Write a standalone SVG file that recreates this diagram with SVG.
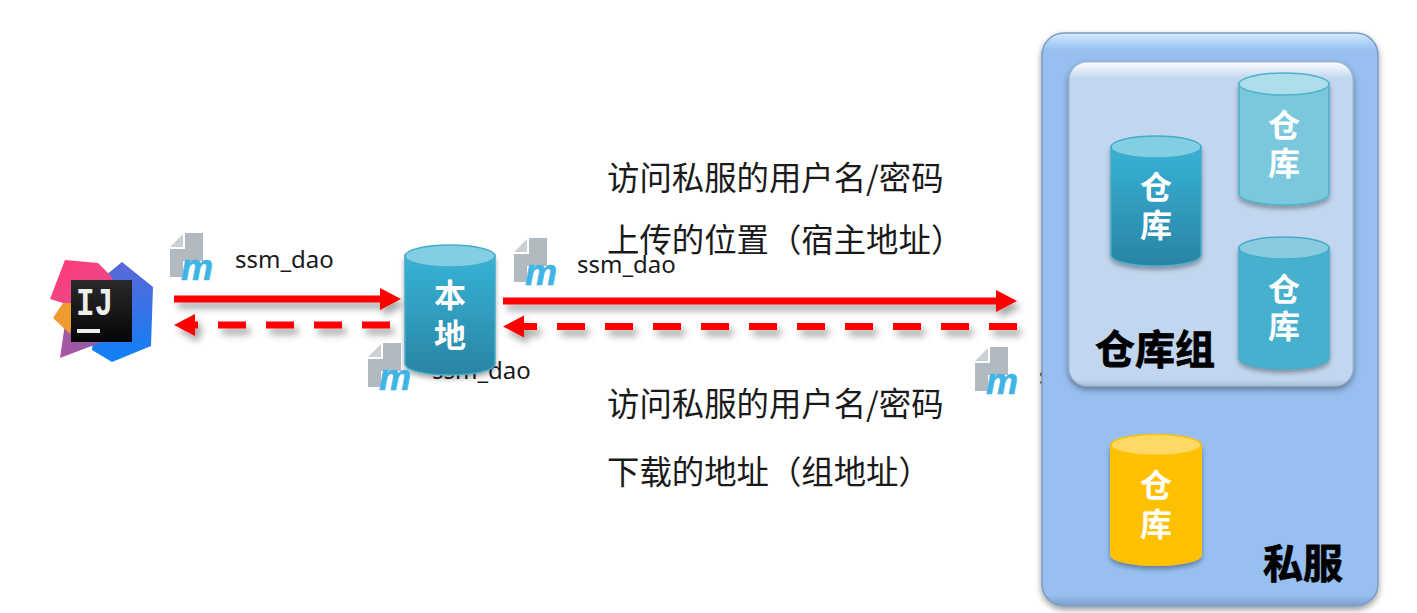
<svg xmlns="http://www.w3.org/2000/svg" xmlns:xlink="http://www.w3.org/1999/xlink" width="1417" height="613" viewBox="0 0 1417 613">
<style>
text{font-family:"Noto Sans","Noto Sans CJK SC",sans-serif}
.cap{font-family:"Noto Sans CJK SC",sans-serif;font-size:32.400px;fill:#1a1a1a}
.ssm{font-size:24px;fill:#1a1a1a}
.cyl{font-family:"Noto Sans CJK SC",sans-serif;font-size:32px;font-weight:700;fill:#fff;text-anchor:middle}
.big{font-family:"Noto Sans CJK SC",sans-serif;font-size:40px;font-weight:700;fill:#000;stroke:#000;stroke-width:.8px}
.solid{fill:none;stroke:#f00;stroke-width:7}
.dash{fill:none;stroke:#f00;stroke-width:7;stroke-dasharray:28 20}
</style>
<defs>
<filter id="sh" filterUnits="userSpaceOnUse" x="0" y="0" width="1417" height="613"><feDropShadow dx="4" dy="6" stdDeviation="3.500" flood-color="#000" flood-opacity=".35"/></filter>
<filter id="cs" x="-20%" y="-20%" width="140%" height="140%"><feDropShadow dx="0" dy="3" stdDeviation="2.500" flood-color="#000" flood-opacity=".35"/></filter>
<filter id="ps" x="-5%" y="-5%" width="110%" height="110%"><feDropShadow dx="0" dy="3" stdDeviation="3" flood-color="#000" flood-opacity=".4"/></filter>
<marker id="ah" markerUnits="userSpaceOnUse" markerWidth="22" markerHeight="24" refX="9" refY="12" orient="auto"><path d="M0 1L21 12L0 23Z" fill="#f00"/></marker>
<linearGradient id="g1" x1="0" y1="0" x2="0" y2="1"><stop offset="0" stop-color="#36b3d6"/><stop offset="1" stop-color="#2a84a4"/></linearGradient>
<linearGradient id="edge" x1="0" y1="0" x2="0" y2="1"><stop offset="0" stop-color="#d4ecfd"/><stop offset=".03" stop-color="#97bff0"/><stop offset=".98" stop-color="#97bff0"/><stop offset="1" stop-color="#7d9fcc"/></linearGradient>
<linearGradient id="edge2" x1="0" y1="0" x2="0" y2="1"><stop offset="0" stop-color="#fff"/><stop offset=".05" stop-color="#c2d7ef"/><stop offset=".98" stop-color="#c2d7ef"/><stop offset="1" stop-color="#a9bdd6"/></linearGradient>
<linearGradient id="pp" x1="0" y1="0" x2="1" y2="1"><stop offset="0" stop-color="#ff3a74"/><stop offset=".6" stop-color="#f04488"/><stop offset="1" stop-color="#c0509a"/></linearGradient>
<linearGradient id="bl" x1="0" y1="0" x2="0" y2="1"><stop offset="0" stop-color="#5a68d8"/><stop offset="1" stop-color="#0f80f8"/></linearGradient>
<linearGradient id="pu" x1="0" y1="0" x2="1" y2="0"><stop offset="0" stop-color="#a9559f"/><stop offset="1" stop-color="#8a5cb0"/></linearGradient>
<linearGradient id="bk" x1="0" y1="0" x2="0" y2="1"><stop offset="0" stop-color="#2a2a2a"/><stop offset="1" stop-color="#050505"/></linearGradient>
<g id="mvn">
<path d="M15 0H33V28H13V44H0V16H15Z" fill="#b0bac0"/>
<path d="M0 14L13 1V14Z" fill="#c9d1d5"/>
<text x="11" y="46.500" font-size="36" font-weight="700" font-style="italic" fill="#3fb5e5" style="font-family:'Liberation Sans',sans-serif" stroke="#3fb5e5" stroke-width=".6">m</text>
</g>
</defs>
<rect width="1417" height="613" fill="#fff"/>

<text class="ssm" x="1039" y="384">ssm_dao</text>
<text class="ssm" x="432" y="379">ssm_dao</text>

<g id="connectors">
<g filter="url(#sh)"><path class="solid" d="M174 299H389" marker-end="url(#ah)"/></g>
<g filter="url(#sh)"><path class="dash" d="M390 325H186" marker-end="url(#ah)"/></g>
<g filter="url(#sh)"><path class="solid" d="M503 301H1005" marker-end="url(#ah)"/></g>
<g filter="url(#sh)"><path class="dash" d="M1017 326.500H515" marker-end="url(#ah)"/></g>
</g>

<g id="idea">
<path d="M122 262L153 287L151 346L112 362L92 350L100 280Z" fill="url(#bl)"/>
<path d="M67 310L60 358L102 342L100 300Z" fill="url(#pu)"/>
<path d="M63 303L53 318L70 334L75 303Z" fill="#f09a30"/>
<path d="M65 260L98 263L113 278L100 300L71 303L63 303L50 299Z" fill="url(#pp)"/>
<rect x="71" y="280" width="61" height="62" fill="url(#bk)"/>
<text x="76" y="315" font-size="38" font-weight="700" fill="#eee" textLength="37" lengthAdjust="spacingAndGlyphs" style="font-family:'Liberation Mono',monospace">IJ</text>
<rect x="77" y="329" width="23" height="4" fill="#eee"/>
</g>

<g id="local-repo">
<g filter="url(#cs)"><path d="M405 256V364A45 11 0 0 0 495 364V256Z" fill="url(#g1)" stroke="#45aac8" stroke-width="1.500"/></g>
<ellipse cx="450" cy="256" rx="45" ry="11" fill="#82cfe4" stroke="#45aac8" stroke-width="1.500"/>
<text class="cyl" x="450" y="307">本</text>
<text class="cyl" x="450" y="347">地</text>
</g>

<use xlink:href="#mvn" href="#mvn" x="170" y="233"/>
<use xlink:href="#mvn" href="#mvn" x="514" y="238"/>
<use xlink:href="#mvn" href="#mvn" x="368" y="343"/>
<use xlink:href="#mvn" href="#mvn" x="975" y="347"/>

<text class="ssm" x="235" y="268">ssm_dao</text>
<text class="ssm" x="577" y="273">ssm_dao</text>

<text class="cap" x="607" y="190">访问私服的用户名/密码</text>
<text class="cap" x="607" y="252">上传的位置（宿主地址）</text>
<text class="cap" x="607" y="416">访问私服的用户名/密码</text>
<text class="cap" x="607" y="484">下载的地址（组地址）</text>

<g id="private-server">
<rect x="1042" y="33" width="336" height="573" rx="22" fill="url(#edge)" stroke="#7c9ac4" stroke-width="1.500" filter="url(#ps)"/>
<text class="big" x="1263" y="578">私服</text>
</g>
<g id="repo-group">
<rect x="1069" y="62" width="284" height="324" rx="18" fill="url(#edge2)" stroke="#9fb2cc" stroke-width="1" filter="url(#ps)"/>
<text class="big" x="1095" y="364">仓库组</text>
</g>
<g id="repo-1">
<g filter="url(#cs)"><path d="M1111 147V255A45 11 0 0 0 1201 255V147Z" fill="url(#g1)" stroke="#45aac8" stroke-width="1.500"/></g>
<ellipse cx="1156" cy="147" rx="45" ry="11" fill="#82cfe4" stroke="#45aac8" stroke-width="1.500"/>
<text class="cyl" x="1156" y="199">仓</text>
<text class="cyl" x="1156" y="237">库</text>
</g>
<g id="repo-2">
<g filter="url(#cs)"><path d="M1239 84V194A45 11 0 0 0 1329 194V84Z" fill="#7ac8de" stroke="#4fb0cc" stroke-width="1.500"/></g>
<ellipse cx="1284" cy="84" rx="45" ry="11" fill="#aedeea" stroke="#4fb0cc" stroke-width="1.500"/>
<text class="cyl" x="1284" y="137">仓</text>
<text class="cyl" x="1284" y="175">库</text>
</g>
<g id="repo-3">
<g filter="url(#cs)"><path d="M1239 248V358A45 11 0 0 0 1329 358V248Z" fill="#44b1cf" stroke="#45aac8" stroke-width="1.500"/></g>
<ellipse cx="1284" cy="248" rx="45" ry="11" fill="#8accdf" stroke="#45aac8" stroke-width="1.500"/>
<text class="cyl" x="1284" y="301">仓</text>
<text class="cyl" x="1284" y="338">库</text>
</g>
<g id="repo-4">
<g filter="url(#cs)"><path d="M1110 445V555A46 11 0 0 0 1202 555V445Z" fill="#ffc000"/></g>
<ellipse cx="1156" cy="445" rx="45" ry="10.500" fill="#ffd966" stroke="#ffc000" stroke-width="1.500"/>
<text class="cyl" x="1156" y="497">仓</text>
<text class="cyl" x="1156" y="536">库</text>
</g>
</svg>
